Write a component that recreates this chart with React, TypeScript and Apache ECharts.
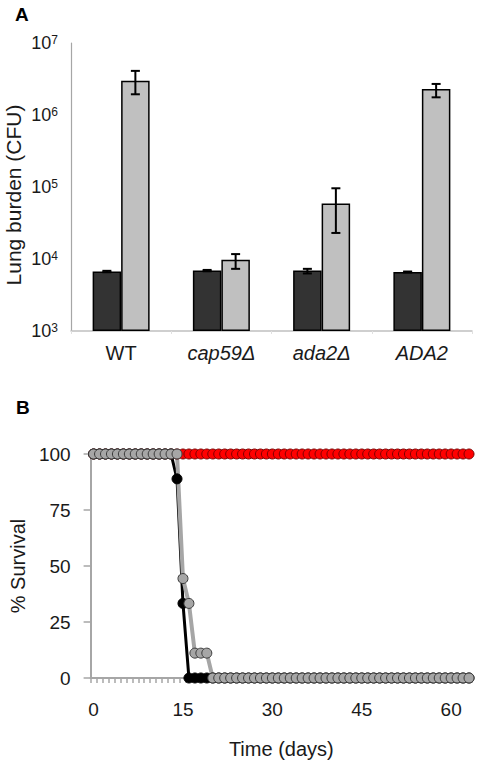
import React, { useEffect, useRef } from "react";
import * as echarts from "echarts";

// ---------- Panel A data ----------
const strains = ["WT", "cap59Δ", "ada2Δ", "ADA2"];
const earlyCFU = [6700, 6900, 6900, 6600];
const earlyLow = [6550, 6750, 6300, 6500];
const earlyHigh = [6850, 7050, 7300, 6700];
const lateCFU = [3.0e6, 9800, 5.9e4, 2.3e6];
const lateLow = [1.94e6, 7300, 2.3e4, 1.76e6];
const lateHigh = [4.1e6, 1.17e4, 9.6e4, 2.7e6];

// ---------- Panel B data ----------
const days = [
  "0", "1", "2", "3", "4", "5", "6", "7", "8", "9", "10", "11", "12", "13", "14", "15",
  "16", "17", "18", "19", "20", "21", "22", "23", "24", "25", "26", "27", "28", "29", "30", "31",
  "32", "33", "34", "35", "36", "37", "38", "39", "40", "41", "42", "43", "44", "45", "46", "47",
  "48", "49", "50", "51", "52", "53", "54", "55", "56", "57", "58", "59", "60", "61", "62", "63",
];
const survivalRed = [
  100, 100, 100, 100, 100, 100, 100, 100,
  100, 100, 100, 100, 100, 100, 100, 100,
  100, 100, 100, 100, 100, 100, 100, 100,
  100, 100, 100, 100, 100, 100, 100, 100,
  100, 100, 100, 100, 100, 100, 100, 100,
  100, 100, 100, 100, 100, 100, 100, 100,
  100, 100, 100, 100, 100, 100, 100, 100,
  100, 100, 100, 100, 100, 100, 100, 100,
];
const survivalBlack = [
  100, 100, 100, 100, 100, 100, 100, 100,
  100, 100, 100, 100, 100, 100, 88.9, 33.3,
  0, 0, 0, 0, 0, 0, 0, 0,
  0, 0, 0, 0, 0, 0, 0, 0,
  0, 0, 0, 0, 0, 0, 0, 0,
  0, 0, 0, 0, 0, 0, 0, 0,
  0, 0, 0, 0, 0, 0, 0, 0,
  0, 0, 0, 0, 0, 0, 0, 0,
];
const survivalGray = [
  100, 100, 100, 100, 100, 100, 100, 100,
  100, 100, 100, 100, 100, 100, 100, 44.4,
  33.3, 11.1, 11.1, 11.1, 0, 0, 0, 0,
  0, 0, 0, 0, 0, 0, 0, 0,
  0, 0, 0, 0, 0, 0, 0, 0,
  0, 0, 0, 0, 0, 0, 0, 0,
  0, 0, 0, 0, 0, 0, 0, 0,
  0, 0, 0, 0, 0, 0, 0, 0,
];

const FONT = "'Liberation Sans', Arial, Helvetica, sans-serif";
const TXT = "#1a1a1a";
const AXIS_GRAY = "#a6a6a6";
const BAR_W = 28.5;

function errSeries(name: string, means: number[], lows: number[], highs: number[], offset: number) {
  return {
    type: "custom",
    name,
    xAxisIndex: 0,
    yAxisIndex: 0,
    z: 5,
    clip: false,
    data: means.map((m, i) => [i, m, lows[i], highs[i]]),
    encode: { x: 0, y: 1 },
    renderItem: (params: any, api: any) => {
      const idx = api.value(0);
      const lo = api.coord([idx, api.value(2)]);
      const hi = api.coord([idx, api.value(3)]);
      const x = lo[0] + offset;
      const cap = 4.5;
      const style = { stroke: "#000", lineWidth: 2 };
      return {
        type: "group",
        children: [
          { type: "line", shape: { x1: x, y1: lo[1], x2: x, y2: hi[1] }, style },
          { type: "line", shape: { x1: x - cap, y1: lo[1], x2: x + cap, y2: lo[1] }, style },
          { type: "line", shape: { x1: x - cap, y1: hi[1], x2: x + cap, y2: hi[1] }, style },
        ],
      };
    },
  };
}

function lineSeries(name: string, data: number[], fill: string, border: string, lineColor: string, lineWidth: number) {
  return {
    type: "line",
    name,
    xAxisIndex: 1,
    yAxisIndex: 1,
    data,
    symbol: "circle",
    symbolSize: 10,
    showAllSymbol: true,
    clip: false,
    lineStyle: { color: lineColor, width: lineWidth },
    itemStyle: { color: fill, borderColor: border, borderWidth: 1 },
  };
}

export default function App() {
  const ref = useRef<HTMLDivElement>(null);

  useEffect(() => {
    document.body.style.margin = "0";
    if (!ref.current) return;
    const chart = echarts.init(ref.current, undefined, { renderer: "svg" });

    const option: any = {
      animation: false,
      backgroundColor: "#ffffff",
      textStyle: { fontFamily: FONT },
      grid: [
        { left: 71, top: 43, width: 401, height: 288 },
        { left: 71, top: 454, width: 401, height: 224 },
      ],
      xAxis: [
        {
          type: "category",
          gridIndex: 0,
          data: strains,
          axisLine: { lineStyle: { color: "#c0c0c0", width: 1.5 } },
          axisTick: { show: true, length: 3, lineStyle: { color: "#e0e0e0" } },
          axisLabel: {
            interval: 0,
            margin: 12,
            fontSize: 20,
            color: TXT,
            fontFamily: FONT,
            formatter: (v: string) => (v === "WT" ? v : `{i|${v}}`),
            rich: { i: { fontStyle: "italic", fontSize: 20, color: TXT, fontFamily: FONT } },
          },
        },
        {
          type: "category",
          gridIndex: 1,
          data: days,
          boundaryGap: true,
          axisLine: { lineStyle: { color: AXIS_GRAY, width: 2 } },
          axisTick: { show: true, interval: 0, length: 5, lineStyle: { color: AXIS_GRAY, width: 1.5 } },
          axisLabel: { interval: 14, margin: 22, fontSize: 19, color: TXT, fontFamily: FONT },
          name: "Time (days)",
          nameLocation: "middle",
          nameGap: 61,
          nameTextStyle: { fontSize: 20, color: TXT, fontFamily: FONT },
        },
      ],
      yAxis: [
        {
          type: "log",
          gridIndex: 0,
          logBase: 10,
          min: 1000,
          max: 1e7,
          startValue: 1000,
          splitLine: { show: false },
          axisLine: { show: true, lineStyle: { color: AXIS_GRAY, width: 1.2 } },
          axisTick: { show: false },
          axisLabel: {
            margin: 13,
            fontSize: 18,
            color: TXT,
            fontFamily: FONT,
            formatter: (v: number) => `10{s|${Math.round(Math.log10(v))}}`,
            rich: { s: { fontSize: 12, verticalAlign: "top", color: TXT, fontFamily: FONT } },
          },
        },
        {
          type: "value",
          gridIndex: 1,
          min: 0,
          max: 100,
          interval: 25,
          splitLine: { show: false },
          axisLine: { show: true, lineStyle: { color: AXIS_GRAY, width: 2 } },
          axisTick: { show: true, length: 7, lineStyle: { color: AXIS_GRAY, width: 1.5 } },
          axisLabel: { margin: 20, fontSize: 19, color: TXT, fontFamily: FONT },
          name: "% Survival",
          nameLocation: "middle",
          nameGap: 43,
          nameTextStyle: { fontSize: 20, color: TXT, fontFamily: FONT },
        },
      ],
      graphic: [
        { type: "text", left: 15, top: 5, style: { text: "A", fontSize: 19, fontWeight: "bold", fill: "#000", fontFamily: FONT } },
        { type: "text", left: 16, top: 398, style: { text: "B", fontSize: 19, fontWeight: "bold", fill: "#000", fontFamily: FONT } },
        {
          type: "text",
          x: 13,
          y: 195,
          rotation: Math.PI / 2,
          style: {
            text: "Lung burden (CFU)",
            fontSize: 21,
            fill: TXT,
            fontFamily: FONT,
            align: "center",
            verticalAlign: "middle",
          },
        },
      ],
      series: [
        {
          type: "bar",
          name: "early",
          xAxisIndex: 0,
          yAxisIndex: 0,
          data: earlyCFU,
          barWidth: BAR_W,
          barGap: "0%",
          clip: true,
          itemStyle: { color: "#333333", borderColor: "#000", borderWidth: 1.5 },
        },
        {
          type: "bar",
          name: "late",
          xAxisIndex: 0,
          yAxisIndex: 0,
          data: lateCFU,
          barWidth: BAR_W,
          barGap: "0%",
          clip: true,
          itemStyle: { color: "#c0c0c0", borderColor: "#000", borderWidth: 1.5 },
        },
        errSeries("early error", earlyCFU, earlyLow, earlyHigh, -BAR_W / 2),
        errSeries("late error", lateCFU, lateLow, lateHigh, BAR_W / 2),
        lineSeries("red", survivalRed, "#ff0000", "#7a0000", "#ff0000", 2),
        lineSeries("black", survivalBlack, "#000000", "#000000", "#000000", 3),
        lineSeries("gray", survivalGray, "#a6a6a6", "#3a3a3a", "#a6a6a6", 4),
      ],
    };

    chart.setOption(option);
    return () => chart.dispose();
  }, []);

  return <div ref={ref} style={{ width: 481, height: 772 }} />;
}
